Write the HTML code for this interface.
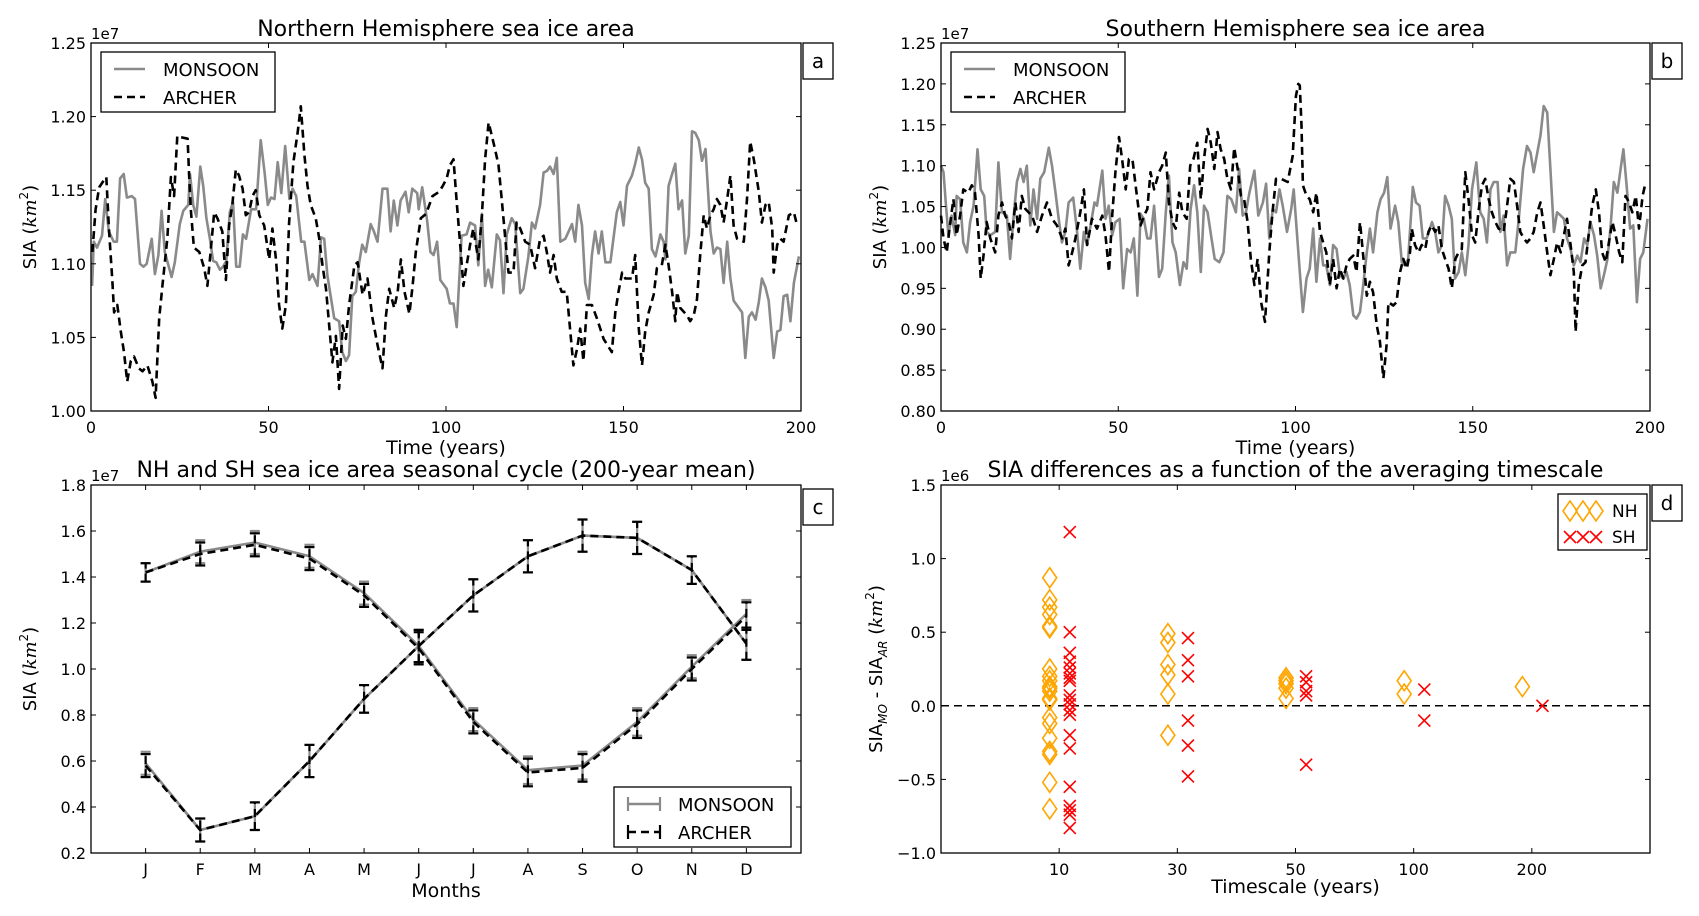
<!DOCTYPE html>
<html><head><meta charset="utf-8"><style>
html,body{margin:0;padding:0;background:#fff;}
svg{display:block;font-family:"DejaVu Sans","Liberation Sans",sans-serif;}
</style></head><body>
<svg id="fig" xmlns="http://www.w3.org/2000/svg" width="1699" height="916" viewBox="0 0 1699 916"></svg>
<script>
// ---------- Panel a: NH sea ice area (1e7 km^2) ----------
const nhMonYearsA=[0.3,0.8,1.7,3.1,4.0,5.0,6.4,7.3,8.2,9.2,10.1,11.5,12.4,13.8,14.8,15.7,17.1,18.0,19.0,19.9,20.8,22.7,23.6,25.0,26.0,27.4,27.9,28.8,29.7,30.8,31.6,32.5,33.5,34.4,35.3,36.3,37.2,38.1,39.1,40.0,40.9,41.9,42.8,43.7,45.1,46.5,47.8,48.9,49.8,50.7,51.7,52.6,53.6,54.7,55.9,56.8,57.8,59.2,60.1,61.5,62.4,63.8,64.8,65.7,66.6,68.5,69.9,70.8,71.8,72.7,73.6,74.6,75.5,76.4,77.4,78.8,79.7,80.7,82.1,83.5,84.4,85.3,86.3,87.2,88.6,89.5,90.5,91.9,92.3,93.3,94.7,95.6,96.5,97.5,98.4];
const nhMonValsA=[1.085,1.115,1.111,1.119,1.144,1.122,1.115,1.115,1.158,1.161,1.145,1.146,1.144,1.100,1.098,1.100,1.117,1.093,1.106,1.136,1.108,1.091,1.101,1.127,1.136,1.140,1.161,1.140,1.132,1.166,1.153,1.131,1.117,1.102,1.101,1.096,1.098,1.102,1.135,1.142,1.098,1.098,1.120,1.117,1.137,1.137,1.184,1.162,1.140,1.145,1.144,1.169,1.148,1.180,1.144,1.151,1.146,1.115,1.115,1.089,1.093,1.085,1.118,1.117,1.092,1.063,1.061,1.040,1.034,1.038,1.078,1.081,1.100,1.113,1.108,1.127,1.122,1.115,1.151,1.151,1.122,1.143,1.126,1.143,1.149,1.135,1.151,1.148,1.137,1.152,1.129,1.108,1.106,1.115,1.089];
const nhMonYearsB=[100.2,101.1,102.1,103.0,104.4,105.8,106.8,108.2,109.1,110.1,111.0,111.9,112.9,114.3,115.2,116.2,117.1,118.5,119.5,120.9,121.8,123.2,124.2,125.1,126.5,127.5,128.4,129.3,130.3,131.2,132.2,133.6,135.5,136.4,137.3,138.3,139.2,140.2,141.1,142.0,143.0,143.9,144.9,146.3,148.1,149.1,150.0,151.0,152.4,153.3,154.3,155.2,156.1,157.1,158.0,159.0,160.4,161.3,161.8,162.7,163.7,164.6,165.5,166.5,167.4,168.4,169.3,170.2,171.2,172.1,173.1,174.5,175.4,176.3,177.3,178.2,179.2,180.1,181.0,182.5,183.4,184.3,185.3,186.2,187.2,188.1,189.0,190.0,190.9,192.3,193.3,194.2,195.1,196.1,197.0,198.0,199.4];
const nhMonValsB=[1.083,1.073,1.073,1.057,1.119,1.120,1.128,1.126,1.099,1.134,1.085,1.096,1.084,1.120,1.116,1.080,1.120,1.131,1.127,1.080,1.083,1.105,1.128,1.124,1.140,1.162,1.163,1.166,1.161,1.172,1.115,1.117,1.127,1.115,1.140,1.126,1.087,1.076,1.106,1.122,1.107,1.122,1.101,1.101,1.135,1.142,1.126,1.153,1.160,1.168,1.179,1.171,1.155,1.151,1.110,1.105,1.120,1.115,1.103,1.153,1.161,1.168,1.137,1.143,1.107,1.119,1.190,1.189,1.184,1.170,1.178,1.122,1.107,1.111,1.110,1.087,1.115,1.090,1.075,1.070,1.067,1.036,1.064,1.067,1.062,1.074,1.090,1.084,1.075,1.036,1.054,1.055,1.078,1.079,1.061,1.087,1.105];
const nhArcYearsA=[0.4,1.3,2.3,3.7,4.3,5.1,6.0,6.5,7.4,8.4,9.3,10.2,11.2,12.1,13.5,14.5,15.9,17.3,18.2,19.2,20.1,21.5,22.5,23.4,24.3,25.3,27.2,27.6,28.1,29.0,30.5,31.9,32.8,33.7,34.7,35.6,37.0,38.0,38.9,39.8,40.8,41.7,42.7,43.6,44.5,45.5,46.4,47.4,48.8,50.2,51.1,52.1,53.0,53.9,54.9,55.8,57.0,58.2,59.1,60.1,61.0,61.9,63.3,64.3,65.2,66.2,67.1,68.0,69.0,69.9,70.9,71.8,72.7,74.2,75.1,76.5,77.9,79.3,80.7,82.1,83.1,84.0,85.4,86.4,87.3,88.3,89.7,90.6,91.5,92.9,94.4,96.2,98.1,99.1];
const nhArcValsA=[1.108,1.137,1.152,1.157,1.159,1.122,1.089,1.067,1.072,1.054,1.040,1.020,1.034,1.037,1.029,1.027,1.031,1.020,1.009,1.063,1.085,1.117,1.159,1.146,1.187,1.186,1.185,1.162,1.137,1.111,1.108,1.097,1.085,1.108,1.135,1.131,1.122,1.089,1.126,1.140,1.164,1.160,1.151,1.133,1.135,1.146,1.150,1.133,1.126,1.103,1.124,1.103,1.072,1.056,1.072,1.128,1.169,1.189,1.207,1.174,1.153,1.140,1.131,1.117,1.099,1.083,1.058,1.033,1.051,1.015,1.058,1.049,1.072,1.099,1.101,1.079,1.090,1.063,1.045,1.029,1.065,1.083,1.070,1.081,1.103,1.081,1.066,1.085,1.108,1.131,1.134,1.146,1.149,1.153];
const nhArcYearsB=[100.2,101.1,102.1,103.0,104.0,104.9,105.8,106.8,107.7,109.1,110.1,111.0,112.0,112.9,113.8,114.8,115.7,116.7,117.6,119.0,119.9,120.9,122.3,123.7,125.1,126.5,127.5,128.4,129.3,130.3,131.2,132.6,134.0,135.0,135.9,136.9,137.8,138.7,139.7,141.1,142.5,144.4,146.7,147.7,148.6,149.6,150.5,152.4,153.3,154.3,155.2,156.1,157.1,158.5,159.4,160.8,161.8,162.7,163.7,164.6,165.1,166.0,167.9,168.8,169.8,170.7,171.6,172.6,173.5,174.5,175.4,176.3,177.3,178.2,179.2,180.1,181.0,182.0,183.9,184.8,185.7,186.7,188.1,189.0,190.0,190.9,191.9,192.3,193.3,194.2,195.1,196.6,198.0,198.9];
const nhArcValsB=[1.158,1.167,1.171,1.142,1.113,1.085,1.099,1.113,1.124,1.103,1.133,1.171,1.196,1.187,1.178,1.167,1.144,1.117,1.094,1.094,1.128,1.124,1.115,1.113,1.097,1.117,1.119,1.108,1.094,1.106,1.090,1.081,1.081,1.054,1.031,1.042,1.056,1.034,1.072,1.072,1.063,1.049,1.040,1.067,1.081,1.094,1.090,1.090,1.106,1.056,1.031,1.054,1.067,1.079,1.097,1.099,1.113,1.099,1.081,1.061,1.081,1.070,1.065,1.061,1.065,1.076,1.106,1.133,1.124,1.133,1.137,1.144,1.140,1.128,1.144,1.160,1.126,1.117,1.115,1.144,1.183,1.171,1.149,1.128,1.140,1.142,1.124,1.094,1.113,1.117,1.115,1.133,1.135,1.126];

// ---------- Panel b: SH sea ice area (1e7 km^2) ----------
const shMonYearsA=[0,0.7,1.4,2.1,3.0,4.0,4.4,5.4,6.3,7.3,8.2,9.2,10.3,11.2,12.2,12.9,13.9,15.3,16.2,17.2,18.6,19.5,20.5,21.4,22.4,23.3,24.2,25.2,26.1,27.1,28.0,29.1,30.4,31.3,32.3,33.2,34.1,35.1,36.0,37.3,38.4,39.3,40.3,41.2,42.2,43.3,44.0,45.5,46.4,47.3,48.3,49.2,50.4,51.4,52.5,53.5,54.4,55.4,56.3,57.2,58.2,59.1,60.1,61.5,62.4,63.4,64.3,65.3,66.2,67.4,68.4,69.3,70.4,71.4,72.3,73.3,74.2,75.2,76.3,77.2,78.5,79.7,80.8,81.9,83.2,84.1,85.1,86.0,87.0,88.4,89.5,90.8,91.7,92.6,93.6,94.5,95.5,96.4,97.6,98.8,99.5];
const shMonValsA=[1.100,1.092,1.051,1.015,1.039,1.015,1.063,1.059,1.006,0.994,1.031,1.051,1.120,1.071,1.063,1.019,1.015,1.019,1.104,1.043,1.039,0.986,1.039,1.080,1.096,1.080,1.100,1.027,1.071,1.035,1.084,1.092,1.122,1.100,1.067,1.035,1.006,1.019,1.055,1.061,1.019,0.974,1.019,1.003,1.027,1.055,1.051,1.094,1.035,1.051,1.015,1.031,1.035,0.950,0.998,0.994,1.011,0.941,1.041,1.035,1.011,1.011,1.051,0.964,0.974,1.043,1.088,1.006,0.994,0.954,0.982,0.974,1.047,1.076,1.043,0.970,1.051,1.043,1.011,0.986,0.982,0.994,1.063,1.059,1.043,1.096,1.039,1.043,1.067,1.094,1.039,1.055,1.078,1.011,1.047,1.043,1.071,1.051,1.019,1.047,1.071];
const shMonYearsB=[101.2,102.1,103.1,104.0,105.0,105.9,106.9,107.8,108.7,109.7,110.6,111.6,112.5,113.5,114.4,115.3,116.3,117.2,118.2,119.1,120.1,121.0,121.9,123.1,124.0,125.0,125.9,126.8,128.1,129.0,130.0,130.9,131.8,133.1,134.0,135.0,135.9,137.0,138.5,139.4,140.3,141.3,142.2,143.2,144.1,145.0,146.0,146.9,147.9,148.8,149.8,151.0,152.1,153.1,154.0,155.0,155.9,157.0,157.8,158.7,159.7,160.6,162.0,163.0,164.2,165.3,166.3,167.2,168.2,169.1,170.0,171.0,171.9,172.9,173.8,174.8,175.7,176.6,177.6,178.5,179.5,180.4,181.4,182.3,183.2,184.2,185.1,186.1,187.0,188.0,188.9,189.8,190.8,191.7,192.5,193.4,194.4,195.3,196.3,197.2,198.1,199.3];
const shMonValsB=[0.970,0.921,0.962,0.974,1.023,0.958,1.011,0.978,0.978,0.954,1.003,0.998,0.966,0.962,0.970,0.954,0.917,0.913,0.921,0.954,0.994,1.023,0.994,1.043,1.059,1.067,1.086,1.023,1.051,1.031,0.982,0.978,0.986,1.074,1.055,1.051,1.011,1.011,1.031,1.019,0.994,1.003,1.063,1.051,1.035,0.962,0.970,0.994,0.966,1.003,1.071,1.104,1.043,1.035,1.006,1.071,1.080,1.080,1.019,1.039,0.978,0.994,0.994,1.035,1.096,1.124,1.116,1.092,1.116,1.137,1.173,1.165,1.096,1.019,1.043,1.039,1.035,1.011,0.998,0.978,0.990,0.982,1.011,1.003,1.031,1.015,0.990,0.950,0.966,0.986,1.027,1.080,1.067,1.096,1.120,1.076,1.023,1.027,0.933,0.986,0.994,1.035];
const shArcYearsA=[0,0.7,1.6,2.5,3.5,4.4,5.4,6.3,7.7,8.7,9.6,10.6,11.2,12.0,12.9,13.9,15.3,16.2,17.2,18.1,19.1,20.0,21.0,21.9,22.8,23.8,24.7,25.7,27.1,28.5,29.9,31.3,32.7,34.2,35.1,36.0,37.0,37.9,39.3,40.3,41.2,42.6,44.0,45.5,46.4,47.4,48.3,49.2,50.2,51.1,52.1,53.0,54.0,54.9,56.3,57.3,58.2,59.1,60.1,61.5,62.4,63.4,64.3,65.3,66.2,67.2,68.1,69.3,70.3,71.2,72.3,73.3,74.2,75.2,76.1,77.1,78.0,78.9,79.9,80.8,81.8,82.7,83.7,84.6,85.5,86.5,87.4,88.4,89.3,90.3,91.4,92.6,93.5,94.5,95.9,97.8,99.2,100.1,100.8];
const shArcValsA=[1.039,1.011,0.994,1.027,1.059,1.015,1.039,1.071,1.067,1.076,1.067,1.015,0.962,0.990,1.031,1.011,0.994,1.039,1.055,1.039,1.031,1.011,1.055,1.019,1.063,1.047,1.043,1.039,1.019,1.039,1.055,1.035,1.027,1.011,1.023,0.978,0.994,1.011,1.043,1.071,1.003,1.035,1.023,1.039,1.015,0.970,1.039,1.092,1.135,1.108,1.071,1.108,1.108,1.076,1.027,1.039,1.047,1.092,1.071,1.092,1.100,1.116,1.055,1.031,1.023,1.067,1.043,1.035,1.100,1.108,1.128,1.059,1.108,1.145,1.128,1.096,1.141,1.120,1.108,1.084,1.071,1.122,1.096,1.063,1.059,1.031,0.986,0.954,0.986,0.933,0.909,0.994,1.043,1.084,1.084,1.080,1.112,1.185,1.200];
const shArcYearsB=[101.2,101.7,102.1,103.1,104.0,105.0,105.9,106.9,107.8,108.7,109.7,110.6,111.6,112.5,113.5,114.4,115.3,116.3,117.2,118.2,119.1,120.1,121.0,121.9,122.9,123.8,124.8,125.7,126.2,127.6,128.5,129.5,130.4,131.4,132.3,132.8,133.7,134.7,135.6,136.6,137.5,138.4,139.4,140.3,141.3,142.2,143.2,144.1,145.1,146.0,146.9,147.9,148.8,149.8,150.7,151.7,152.6,153.5,154.5,155.4,156.4,157.3,158.7,159.7,160.6,161.6,162.5,163.4,164.4,165.3,166.3,167.2,168.2,169.1,170.0,171.0,171.9,172.9,173.8,174.8,175.7,176.6,177.6,178.5,179.0,179.9,180.9,181.8,182.8,183.7,184.7,185.6,186.5,187.5,188.4,189.4,190.3,191.3,192.2,193.1,194.1,195.0,196.0,196.9,197.9,198.8];
const shArcValsB=[1.198,1.149,1.076,1.063,1.059,1.043,1.067,1.019,1.006,0.994,0.954,0.986,0.950,0.974,0.962,0.978,0.986,0.990,0.970,1.031,0.990,0.941,0.958,0.945,0.905,0.885,0.840,0.881,0.933,0.929,0.933,0.970,0.986,0.974,0.994,1.023,1.003,0.994,1.003,0.998,1.019,1.027,1.019,1.027,0.998,0.986,0.974,0.950,0.986,0.994,0.998,1.092,1.059,1.015,1.006,1.047,1.076,1.084,1.059,1.043,1.031,1.023,1.019,1.051,1.084,1.080,1.051,1.019,1.011,1.006,1.011,1.019,1.043,1.055,1.027,0.994,0.966,0.986,1.006,0.994,1.015,1.035,1.003,0.970,0.897,0.954,0.978,0.982,1.019,1.051,1.071,1.043,0.994,0.982,1.006,1.031,1.015,0.994,0.982,1.063,1.055,1.043,1.063,1.023,1.063,1.080];

// ---------- Panel c: seasonal cycle (1e7 km^2) ----------
const months=["J","F","M","A","M","J","J","A","S","O","N","D"];
const nhCycleMon=[1.42,1.51,1.55,1.49,1.33,1.10,0.78,0.56,0.58,0.77,1.01,1.24];
const nhCycleArc=[1.42,1.50,1.54,1.48,1.32,1.09,0.77,0.55,0.57,0.76,1.00,1.23];
const nhCycleErr=[0.04,0.05,0.05,0.05,0.05,0.07,0.05,0.06,0.06,0.06,0.05,0.06];
const shCycleMon=[0.59,0.30,0.36,0.60,0.87,1.10,1.32,1.49,1.58,1.57,1.43,1.11];
const shCycleArc=[0.58,0.30,0.36,0.60,0.87,1.10,1.32,1.49,1.58,1.57,1.43,1.11];
const shCycleErr=[0.05,0.05,0.06,0.07,0.06,0.07,0.07,0.07,0.07,0.07,0.06,0.07];

// ---------- Panel d: SIA differences (1e6 km^2) ----------
const timescaleLabels=["10","30","50","100","200"];
const nhDiff10=[0.87,0.72,0.67,0.62,0.54,0.53,0.25,0.2,0.17,0.13,0.12,0.1,0.05,0.04,-0.08,-0.12,-0.22,-0.31,-0.33,-0.52,-0.7];
const nhDiff30=[0.49,0.43,0.28,0.21,0.08,-0.2];
const nhDiff50=[0.19,0.17,0.15,0.12,0.05];
const nhDiff100=[0.17,0.08];
const nhDiff200=[0.13];
const shDiff10=[1.18,0.5,0.36,0.3,0.26,0.22,0.19,0.17,0.07,0.04,0.01,-0.03,-0.06,-0.2,-0.29,-0.55,-0.68,-0.71,-0.74,-0.83];
const shDiff30=[0.46,0.31,0.2,-0.1,-0.27,-0.48];
const shDiff50=[0.2,0.16,0.1,0.07,-0.4];
const shDiff100=[0.11,-0.1];
const shDiff200=[0.0];

const NS="http://www.w3.org/2000/svg";
const fig=document.getElementById('fig');
function mk(tag,attrs,parent){const e=document.createElementNS(NS,tag);for(const k in attrs)e.setAttribute(k,attrs[k]);(parent||fig).appendChild(e);return e;}
function txt(s,attrs,parent){const t=mk('text',attrs,parent);t.textContent=s;return t;}

function axes(name,box,xd,yd){
  const g=mk('g',{});
  
  
  const sx=v=>box.L+(v-xd[0])/(xd[1]-xd[0])*(box.R-box.L);
  const sy=v=>box.B-(v-yd[0])/(yd[1]-yd[0])*(box.B-box.T);
  return {g,sx,sy,box};
}
function frame(ax,name){
  const r=mk('rect',{x:ax.box.L,y:ax.box.T,width:ax.box.R-ax.box.L,height:ax.box.B-ax.box.T,fill:'none',stroke:'#000','stroke-width':1.3},ax.g);
  
  
}
function xTicks(ax,vals,labels,name){
  const g=mk('g',{},ax.g);
  
  
  vals.forEach((v,i)=>{const x=ax.sx(v);
    mk('line',{x1:x,x2:x,y1:ax.box.B,y2:ax.box.B-5,stroke:'#000','stroke-width':1},g);
    mk('line',{x1:x,x2:x,y1:ax.box.T,y2:ax.box.T+5,stroke:'#000','stroke-width':1},g);
    txt(labels[i],{x:x,y:ax.box.B+22,'font-size':16,'text-anchor':'middle'},g);});
}
function yTicks(ax,vals,labels,name){
  const g=mk('g',{},ax.g);
  
  
  vals.forEach((v,i)=>{const y=ax.sy(v);
    mk('line',{x1:ax.box.L,x2:ax.box.L+5,y1:y,y2:y,stroke:'#000','stroke-width':1},g);
    mk('line',{x1:ax.box.R,x2:ax.box.R-5,y1:y,y2:y,stroke:'#000','stroke-width':1},g);
    txt(labels[i],{x:ax.box.L-5,y:y+6,'font-size':16,'text-anchor':'end'},g);});
}
function series(ax,xs,ys,style,name){
  const n=Math.min(xs.length,ys.length);let d='';
  for(let i=0;i<n;i++)d+=(i?'L':'M')+ax.sx(xs[i]).toFixed(1)+','+ax.sy(ys[i]).toFixed(1);
  const p=mk('path',Object.assign({d:d,fill:'none','stroke-linejoin':'round'},style),ax.g);
  
  
  return p;
}
function range(a,b,s){const r=[];for(let v=a;v<=b+1e-9;v+=s)r.push(+v.toFixed(6));return r;}
function title(s,x,y,name){const t=txt(s,{x:x,y:y,'font-size':22,'text-anchor':'middle'});
  
  }
function letterBox(ch,x,y,w,h,name){const g=mk('g',{});
  
  
  mk('rect',{x:x,y:y,width:w,height:h,fill:'#fff',stroke:'#000','stroke-width':1.3},g);
  txt(ch,{x:x+w/2,y:y+h/2+7,'font-size':20,'text-anchor':'middle'},g);}
function ylabel(x,y,html,name){const t=mk('text',{x:0,y:0,'font-size':18,'text-anchor':'middle',transform:`translate(${x},${y}) rotate(-90)`});
  t.innerHTML=html;
  
  }
function xlabel(s,x,y,name){const t=txt(s,{x:x,y:y,'font-size':19,'text-anchor':'middle'});
  
  }
function expo(s,x,y,name){const t=txt(s,{x:x,y:y,'font-size':15});
  
  }

const GRAY={stroke:'#8a8a8a','stroke-width':2.6};
const DASH={stroke:'#000','stroke-width':2.6,'stroke-dasharray':'8,5'};
const kmHtml='SIA (<tspan font-style="italic" font-family="DejaVu Serif,Liberation Serif,serif">km</tspan><tspan font-size="12" dy="-8">2</tspan><tspan dy="8">)</tspan>';

function timeLegend(x,y,name){const g=mk('g',{});
  
  
  mk('rect',{x:x,y:y,width:174,height:60,fill:'#fff',stroke:'#000','stroke-width':1.3},g);
  const a=mk('line',Object.assign({x1:x+13,x2:x+44,y1:y+17,y2:y+17},GRAY),g);
  
  txt('MONSOON',{x:x+62,y:y+24,'font-size':18},g);
  const b=mk('line',Object.assign({x1:x+13,x2:x+44,y1:y+45,y2:y+45},DASH),g);
  
  txt('ARCHER',{x:x+62,y:y+52,'font-size':18},g);}

const LA=91, RA=801, LB=941, RB=1650;

// Panel a
const PA=axes('panel-a-nh-sia',{L:LA,R:RA,T:43,B:411},[0,200],[1.00,1.25]);
series(PA,nhMonYearsA.concat(nhMonYearsB),nhMonValsA.concat(nhMonValsB),GRAY,'nh-monsoon-line');
series(PA,nhArcYearsA.concat(nhArcYearsB),nhArcValsA.concat(nhArcValsB),DASH,'nh-archer-line');
frame(PA,'panel-a');
xTicks(PA,range(0,200,50),range(0,200,50).map(String),'panel-a-x-ticks');
yTicks(PA,range(1.0,1.25,0.05),range(1.0,1.25,0.05).map(v=>v.toFixed(2)),'panel-a-y-ticks');
title('Northern Hemisphere sea ice area',(LA+RA)/2,36,'panel-a-title');
xlabel('Time (years)',(LA+RA)/2,454,'panel-a-x-title');
ylabel(36,227,kmHtml,'panel-a-y-title');
expo('1e7',LA,39,'panel-a-exponent');
timeLegend(101,52,'panel-a-legend');
letterBox('a',RA+2,43,30,36,'panel-a-letter');

// Panel b
const PB=axes('panel-b-sh-sia',{L:LB,R:RB,T:43,B:411},[0,200],[0.80,1.25]);
series(PB,shMonYearsA.concat(shMonYearsB),shMonValsA.concat(shMonValsB),GRAY,'sh-monsoon-line');
series(PB,shArcYearsA.concat(shArcYearsB),shArcValsA.concat(shArcValsB),DASH,'sh-archer-line');
frame(PB,'panel-b');
xTicks(PB,range(0,200,50),range(0,200,50).map(String),'panel-b-x-ticks');
yTicks(PB,range(0.8,1.25,0.05),range(0.8,1.25,0.05).map(v=>v.toFixed(2)),'panel-b-y-ticks');
title('Southern Hemisphere sea ice area',(LB+RB)/2,36,'panel-b-title');
xlabel('Time (years)',(LB+RB)/2,454,'panel-b-x-title');
ylabel(886,227,kmHtml,'panel-b-y-title');
expo('1e7',LB,39,'panel-b-exponent');
timeLegend(LB+10,52,'panel-b-legend');
letterBox('b',RB+2,43,30,36,'panel-b-letter');

// Panel c
const PC=axes('panel-c-seasonal-cycle',{L:LA,R:RA,T:485,B:853},[0,13],[0.2,1.8]);
function cycle(vals,errs,style,errColor,name){
  const xs=vals.map((v,i)=>i+1);
  series(PC,xs,vals,style,name+'-line');
  const g=mk('g',{},PC.g);
  
  
  vals.forEach((v,i)=>{const x=PC.sx(i+1),y1=PC.sy(v-errs[i]),y2=PC.sy(v+errs[i]);
    mk('line',{x1:x,x2:x,y1:y1,y2:y2,stroke:errColor,'stroke-width':2.2,'stroke-dasharray':style['stroke-dasharray']||'none'},g);
    mk('line',{x1:x-5,x2:x+5,y1:y1,y2:y1,stroke:errColor,'stroke-width':2.2},g);
    mk('line',{x1:x-5,x2:x+5,y1:y2,y2:y2,stroke:errColor,'stroke-width':2.2},g);});
}
cycle(nhCycleMon,nhCycleErr,GRAY,'#8a8a8a','nh-cycle-monsoon');
cycle(shCycleMon,shCycleErr,GRAY,'#8a8a8a','sh-cycle-monsoon');
cycle(nhCycleArc,nhCycleErr,DASH,'#000','nh-cycle-archer');
cycle(shCycleArc,shCycleErr,DASH,'#000','sh-cycle-archer');
frame(PC,'panel-c');
xTicks(PC,months.map((m,i)=>i+1),months,'panel-c-x-ticks');
yTicks(PC,range(0.2,1.8,0.2),range(0.2,1.8,0.2).map(v=>v.toFixed(1)),'panel-c-y-ticks');
title('NH and SH sea ice area seasonal cycle (200-year mean)',(LA+RA)/2,477,'panel-c-title');
xlabel('Months',(LA+RA)/2,897,'panel-c-x-title');
ylabel(36,669,kmHtml,'panel-c-y-title');
expo('1e7',LA,481,'panel-c-exponent');
(function(){const x=614,y=787;const g=mk('g',{});
  
  
  mk('rect',{x:x,y:y,width:177,height:60,fill:'#fff',stroke:'#000','stroke-width':1.3},g);
  mk('line',Object.assign({x1:x+14,x2:x+46,y1:y+17,y2:y+17},GRAY),g);
  mk('line',{x1:x+14,x2:x+14,y1:y+10,y2:y+24,stroke:'#8a8a8a','stroke-width':2.2},g);
  mk('line',{x1:x+46,x2:x+46,y1:y+10,y2:y+24,stroke:'#8a8a8a','stroke-width':2.2},g);
  txt('MONSOON',{x:x+64,y:y+24,'font-size':18},g);
  mk('line',Object.assign({x1:x+14,x2:x+46,y1:y+45,y2:y+45},DASH),g);
  mk('line',{x1:x+14,x2:x+14,y1:y+38,y2:y+52,stroke:'#000','stroke-width':2.2},g);
  mk('line',{x1:x+46,x2:x+46,y1:y+38,y2:y+52,stroke:'#000','stroke-width':2.2},g);
  txt('ARCHER',{x:x+64,y:y+52,'font-size':18},g);})();
letterBox('c',RA+2,489,30,36,'panel-c-letter');

// Panel d
const PD=axes('panel-d-differences',{L:LB,R:RB,T:485,B:853},[0,6],[-1.0,1.5]);
const zl=mk('line',{x1:PD.box.L,x2:PD.box.R,y1:PD.sy(0),y2:PD.sy(0),stroke:'#000','stroke-width':1.5,'stroke-dasharray':'8,5'},PD.g);


const NH_OFF=-0.08, SH_OFF=0.09;
function diamond(x,y,parent){return mk('path',{d:`M${x},${y-10}L${x+7},${y}L${x},${y+10}L${x-7},${y}Z`,fill:'none',stroke:'#FFA500','stroke-width':1.6},parent);}
function cross(x,y,parent){return mk('path',{d:`M${x-6},${y-6}L${x+6},${y+6}M${x-6},${y+6}L${x+6},${y-6}`,fill:'none',stroke:'#FF0000','stroke-width':1.6},parent);}
[nhDiff10,nhDiff30,nhDiff50,nhDiff100,nhDiff200].forEach((arr,i)=>{const g=mk('g',{},PD.g);
  
  
  arr.forEach(v=>diamond(PD.sx(i+1+NH_OFF),PD.sy(v),g));});
[shDiff10,shDiff30,shDiff50,shDiff100,shDiff200].forEach((arr,i)=>{const g=mk('g',{},PD.g);
  
  
  arr.forEach(v=>cross(PD.sx(i+1+SH_OFF),PD.sy(v),g));});
frame(PD,'panel-d');
xTicks(PD,timescaleLabels.map((l,i)=>i+1),timescaleLabels,'panel-d-x-ticks');
yTicks(PD,range(-1,1.5,0.5),range(-1,1.5,0.5).map(v=>(v<0?'\u2212':'')+Math.abs(v).toFixed(1)),'panel-d-y-ticks');
title('SIA differences as a function of the averaging timescale',(LB+RB)/2,477,'panel-d-title');
xlabel('Timescale (years)',(LB+RB)/2,893,'panel-d-x-title');
ylabel(882,669,'SIA<tspan font-size="12" dy="5" font-style="italic">MO</tspan><tspan dy="-5"> - SIA</tspan><tspan font-size="12" dy="5" font-style="italic">AR</tspan><tspan dy="-5"> (</tspan><tspan font-style="italic" font-family="DejaVu Serif,Liberation Serif,serif">km</tspan><tspan font-size="12" dy="-8">2</tspan><tspan dy="8">)</tspan>','panel-d-y-title');
expo('1e6',LB,481,'panel-d-exponent');
(function(){const x=RB-92,y=494;const g=mk('g',{});
  
  
  mk('rect',{x:x,y:y,width:89,height:56,fill:'#fff',stroke:'#000','stroke-width':1.3},g);
  [12,25,38].forEach(o=>diamond(x+o,y+17,g));
  [12,25,38].forEach(o=>cross(x+o,y+43,g));
  txt('NH',{x:x+54,y:y+23,'font-size':17},g);
  txt('SH',{x:x+54,y:y+49,'font-size':17},g);})();
letterBox('d',RB+2,485,30,36,'panel-d-letter');
</script>
</body></html>
